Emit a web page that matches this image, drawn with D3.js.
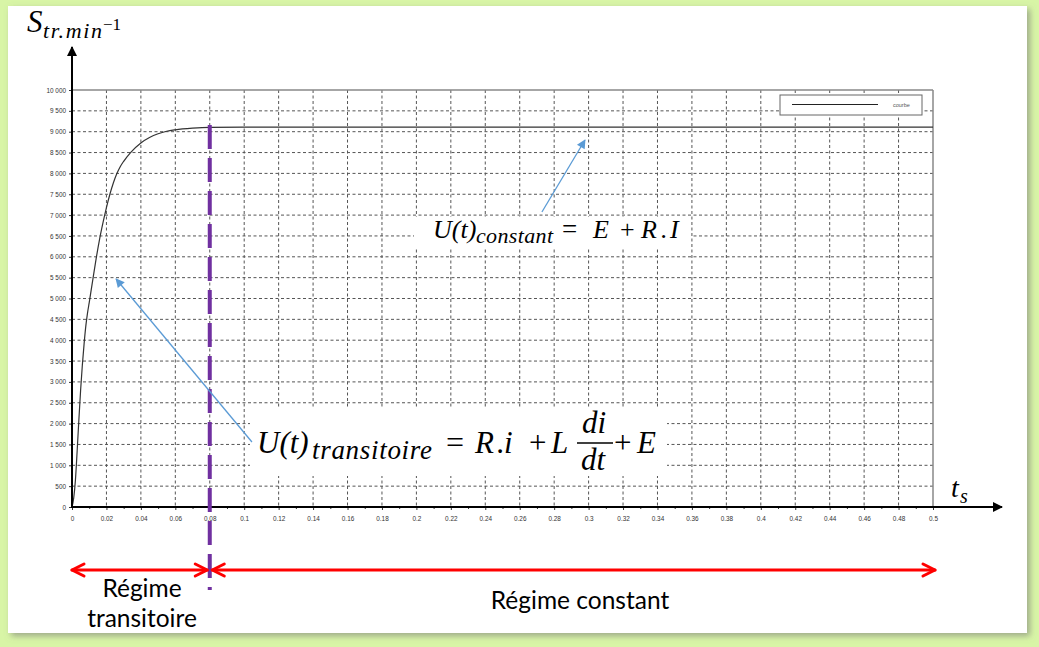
<!DOCTYPE html>
<html><head><meta charset="utf-8">
<script src="https://cdn.jsdelivr.net/npm/d3@7"></script>
<style>body{margin:0;background:#d8f5a6;overflow:hidden}svg{display:block}</style>
</head><body>
<svg id="c" width="1039" height="647"></svg>
<script>
// ---- data ----
const timeS = [0, 0.001, 0.002, 0.003, 0.004, 0.005, 0.006, 0.007, 0.008, 0.009, 0.010, 0.012, 0.014, 0.016, 0.018, 0.020, 0.022, 0.024, 0.026, 0.028, 0.030, 0.034, 0.040, 0.045, 0.050, 0.055, 0.060, 0.070, 0.080, 0.100, 0.150, 0.200, 0.300, 0.400, 0.500];
const speed = [0, 220, 650, 1350, 2100, 2800, 3400, 3900, 4330, 4650, 4900, 5430, 5950, 6420, 6820, 7180, 7500, 7770, 7990, 8160, 8290, 8500, 8730, 8860, 8950, 9010, 9045, 9085, 9105, 9110, 9112, 9112, 9112, 9112, 9112];
const xTickValues = [0, 0.02, 0.04, 0.06, 0.08, 0.1, 0.12, 0.14, 0.16, 0.18, 0.2, 0.22, 0.24, 0.26, 0.28, 0.3, 0.32, 0.34, 0.36, 0.38, 0.4, 0.42, 0.44, 0.46, 0.48, 0.5];
const xTickLabels = ["0", "0.02", "0.04", "0.06", "0.08", "0.1", "0.12", "0.14", "0.16", "0.18", "0.2", "0.22", "0.24", "0.26", "0.28", "0.3", "0.32", "0.34", "0.36", "0.38", "0.4", "0.42", "0.44", "0.46", "0.48", "0.5"];
const xMinorTicks = [0.01, 0.03, 0.05, 0.07, 0.09, 0.11, 0.13, 0.15, 0.17, 0.19, 0.21, 0.23, 0.25, 0.27, 0.29, 0.31, 0.33, 0.35, 0.37, 0.39, 0.41, 0.43, 0.45, 0.47, 0.49];
const yTickValues = [0, 500, 1000, 1500, 2000, 2500, 3000, 3500, 4000, 4500, 5000, 5500, 6000, 6500, 7000, 7500, 8000, 8500, 9000, 9500, 10000];
const yTickLabels = ["0", "500", "1 000", "1 500", "2 000", "2 500", "3 000", "3 500", "4 000", "4 500", "5 000", "5 500", "6 000", "6 500", "7 000", "7 500", "8 000", "8 500", "9 000", "9 500", "10 000"];
const seriesName = "courbe";
const regimeBoundary = 0.08;
const regimeLabels = ["Régime transitoire", "Régime constant"];

// ---- setup ----
const svg = d3.select("#c");
const x = d3.scaleLinear().domain([0, 0.5]).range([72, 933]);
const y = d3.scaleLinear().domain([0, 10000]).range([507, 90]);
const mathFont = "'Liberation Serif', 'DejaVu Serif', serif";
const labFont = "'Liberation Sans', Arial, sans-serif";

const defs = svg.append("defs");
const f = defs.append("filter").attr("id", "sh").attr("x", "-5%").attr("y", "-5%").attr("width", "110%").attr("height", "110%");
f.append("feDropShadow").attr("dx", 3).attr("dy", 3).attr("stdDeviation", 3).attr("flood-color", "#777").attr("flood-opacity", 0.6);
function marker(id, color, w, h) {
  defs.append("marker").attr("id", id).attr("viewBox", "0 0 10 10").attr("refX", 9).attr("refY", 5)
    .attr("markerUnits", "userSpaceOnUse").attr("markerWidth", w).attr("markerHeight", h).attr("orient", "auto")
    .append("path").attr("d", "M0,0 L10,5 L0,10 Z").attr("fill", color);
}
marker("blueHead", "#5b9bd5", 11, 9);
marker("blackHead", "#000", 10, 10);

// frame
svg.append("rect").attr("width", 1039).attr("height", 647).attr("fill", "#d8f5a6");
svg.append("rect").attr("x", 8).attr("y", 6).attr("width", 1019).attr("height", 627).attr("fill", "#fff").attr("filter", "url(#sh)");

// grid
const g = svg.append("g");
g.selectAll(".vg").data(xTickValues.filter(v => v > 0 && v < 0.5)).join("line")
  .attr("x1", d => x(d)).attr("x2", d => x(d)).attr("y1", y(10000)).attr("y2", y(0))
  .attr("stroke", "#555").attr("stroke-width", 1).attr("stroke-dasharray", "3,2.5");
g.selectAll(".hg").data(yTickValues.filter(v => v > 0 && v < 10000)).join("line")
  .attr("x1", x(0)).attr("x2", x(0.5)).attr("y1", d => y(d)).attr("y2", d => y(d))
  .attr("stroke", "#555").attr("stroke-width", 1).attr("stroke-dasharray", "3,2.5");
g.append("line").attr("x1", x(0)).attr("x2", x(0.5)).attr("y1", y(10000)).attr("y2", y(10000)).attr("stroke", "#888").attr("stroke-width", 1.5);
g.append("line").attr("x1", x(0.5)).attr("x2", x(0.5)).attr("y1", y(10000)).attr("y2", y(0)).attr("stroke", "#888").attr("stroke-width", 1.5);

// curve
const pts = timeS.map((t, i) => [t, speed[i]]);
svg.append("path").datum(pts)
  .attr("d", d3.line().x(d => x(d[0])).y(d => y(d[1])).curve(d3.curveMonotoneX))
  .attr("fill", "none").attr("stroke", "#333").attr("stroke-width", 1.2);

// legend
const lg = svg.append("g");
lg.append("rect").attr("x", 780).attr("y", 95).attr("width", 142).attr("height", 20).attr("fill", "#fff").attr("stroke", "#666").attr("stroke-width", 1);
lg.append("line").attr("x1", 792).attr("x2", 878).attr("y1", 104.5).attr("y2", 104.5).attr("stroke", "#222").attr("stroke-width", 1);
lg.append("text").attr("x", 893).attr("y", 106.5).attr("font-family", labFont).attr("font-size", 5.5).attr("fill", "#555").text(seriesName);

// axes
const xAxis = svg.append("g").attr("transform", `translate(0,${y(0)})`)
  .call(d3.axisBottom(x).tickValues(xTickValues).tickSize(3).tickPadding(6).tickFormat((d, i) => xTickLabels[i]));
xAxis.select(".domain").remove();
xAxis.selectAll("text").attr("font-family", labFont).attr("font-size", 6.4).attr("fill", "#333");
xAxis.selectAll("line").attr("stroke", "#333");
svg.append("g").attr("transform", `translate(0,${y(0)})`)
  .call(d3.axisBottom(x).tickValues(xMinorTicks).tickSize(2).tickFormat(""))
  .call(s => s.select(".domain").remove()).selectAll("line").attr("stroke", "#333");
const yAxis = svg.append("g").attr("transform", `translate(${x(0)},0)`)
  .call(d3.axisLeft(y).tickValues(yTickValues).tickSize(3).tickPadding(3).tickFormat((d, i) => yTickLabels[i]));
yAxis.select(".domain").remove();
yAxis.selectAll("text").attr("font-family", labFont).attr("font-size", 6.4).attr("fill", "#333");
yAxis.selectAll("line").attr("stroke", "#333");

svg.append("line").attr("x1", x(0)).attr("x2", 1002).attr("y1", y(0)).attr("y2", y(0))
  .attr("stroke", "#000").attr("stroke-width", 2).attr("marker-end", "url(#blackHead)");
svg.append("line").attr("x1", x(0)).attr("x2", x(0)).attr("y1", y(0) + 1).attr("y2", 47)
  .attr("stroke", "#000").attr("stroke-width", 2).attr("marker-end", "url(#blackHead)");

// purple boundary
svg.append("line").attr("x1", x(regimeBoundary)).attr("x2", x(regimeBoundary))
  .attr("y1", y(9112) - 2).attr("y2", 590)
  .attr("stroke", "#7030a0").attr("stroke-width", 4).attr("stroke-dasharray", "24,9");

// formula boxes
svg.append("rect").attr("x", 414).attr("y", 217).attr("width", 277).attr("height", 30).attr("fill", "#fff");
svg.append("rect").attr("x", 250).attr("y", 409).attr("width", 417).attr("height", 67).attr("fill", "#fff");

function piece(txt, x0, base, size, italic = true, len = null) {
  const t = svg.append("text").attr("x", x0).attr("y", base).attr("font-family", mathFont)
    .attr("font-size", size).attr("font-style", italic ? "italic" : "normal").attr("fill", "#000").text(txt);
  if (len) t.attr("textLength", len).attr("lengthAdjust", "spacing");
}
// formula 1
piece("U(t)", 433, 238, 26);
piece("constant", 476, 243, 22, true, 77);
piece("=", 562, 238, 27, false);
piece("E", 593, 238, 26);
piece("+", 620, 238, 26, false);
piece("R", 641, 238, 26);
piece(".", 661, 238, 26);
piece("I", 670, 238, 26);
// formula 2
piece("U(t)", 257, 453, 31);
piece("transitoire", 312, 459, 27, true, 120);
piece("=", 446, 453, 32, false);
piece("R", 475, 453, 31);
piece(".", 497, 453, 31);
piece("i", 504, 453, 31);
piece("+", 529, 453, 31, false);
piece("L", 551, 453, 31);
piece("di", 582, 433, 31);
svg.append("line").attr("x1", 577).attr("x2", 613).attr("y1", 443).attr("y2", 443).attr("stroke", "#000").attr("stroke-width", 1.6);
piece("dt", 581, 470, 31);
piece("+", 614, 453, 31, false);
piece("E", 637, 453, 31);

// blue annotation arrows (data coords)
const arrows = [
  { from: [0.2729, 7074], to: [0.2979, 8801] },
  { from: [0.1045, 1559], to: [0.0256, 5468] }
];
svg.selectAll(".ar").data(arrows).join("line")
  .attr("x1", d => x(d.from[0])).attr("y1", d => y(d.from[1]))
  .attr("x2", d => x(d.to[0])).attr("y2", d => y(d.to[1]))
  .attr("stroke", "#5b9bd5").attr("stroke-width", 1.3).attr("marker-end", "url(#blueHead)");

// red regime arrows
const ry = 570;
function redArrow(xa, xb) {
  const gg = svg.append("g").attr("stroke", "#ff0000").attr("stroke-width", 3).attr("fill", "none").attr("stroke-linecap", "round").attr("stroke-linejoin", "round");
  gg.append("line").attr("x1", xa).attr("x2", xb).attr("y1", ry).attr("y2", ry);
  gg.append("path").attr("d", `M${xa + 12},${ry - 6} L${xa},${ry} L${xa + 12},${ry + 6}`);
  gg.append("path").attr("d", `M${xb - 12},${ry - 6} L${xb},${ry} L${xb - 12},${ry + 6}`);
}
redArrow(x(0), x(regimeBoundary) - 2.5);
redArrow(x(regimeBoundary) + 2.5, x(0.5) + 2);

const tf = "Lato, 'Open Sans', sans-serif";
svg.append("text").attr("x", 142).attr("y", 597).attr("text-anchor", "middle").attr("font-family", tf).attr("font-size", 24.5).attr("fill", "#000").text(regimeLabels[0].split(" ")[0]);
svg.append("text").attr("x", 142).attr("y", 627).attr("text-anchor", "middle").attr("font-family", tf).attr("font-size", 24.5).attr("fill", "#000").text(regimeLabels[0].split(" ")[1]);
svg.append("text").attr("x", 580).attr("y", 609).attr("text-anchor", "middle").attr("font-family", tf).attr("font-size", 24.5).attr("fill", "#000").text(regimeLabels[1]);

// axis titles
piece("S", 27, 32, 31);
piece("tr.min", 43, 38, 22, true, 59);
piece("−1", 103, 30, 17, false);
piece("t", 951, 497, 28);
piece("s", 960, 503, 20);
</script>
</body></html>
